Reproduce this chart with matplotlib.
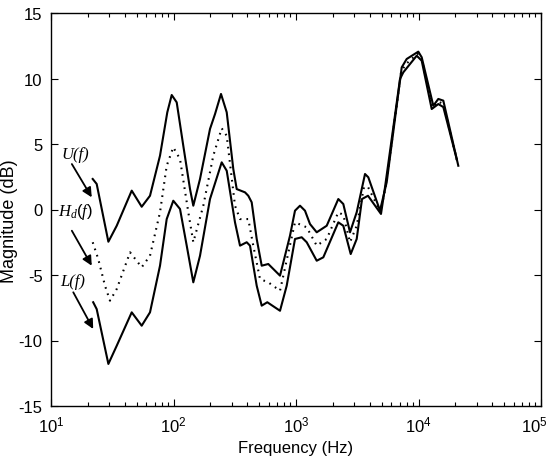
import matplotlib
matplotlib.use("Agg")
import matplotlib.pyplot as plt
from matplotlib.ticker import LogLocator, NullFormatter, FuncFormatter

# Upper bound U(f)
freq_U = [21.9, 23.6, 29.4, 34.4, 45.6, 55.0, 64.3, 77.6, 89.0, 96.7, 106.2, 120.2, 136.4, 145.1,
          164.6, 198.6, 218.3, 244.2, 271.9, 307.7, 328.1, 383.4, 407.9, 434.8, 477.8, 524.8, 594.0,
          740.4, 893.3, 981.3, 1078, 1184, 1301, 1476, 1781, 2215, 2433, 2760, 3130, 3659, 3892,
          4850, 5501, 7294, 8010, 9963, 10620, 13210, 14510, 15940, 21130]
mag_U = [2.33, 1.95, -2.46, -1.24, 1.44, 0.21, 1.05, 4.11, 7.42, 8.74, 8.18, 4.87, 1.56, 0.29,
         2.33, 6.15, 7.29, 8.82, 7.42, 3.09, 1.56, 1.31, 1.05, 0.55, -2.25, -4.29, -4.16,
         -5.05, -2.0, -0.09, 0.29, -0.09, -1.11, -1.74, -1.24, 0.80, 0.42, -1.74, -0.21, 2.71, 2.46,
         -0.09, 2.08, 10.85, 11.49, 12.05, 11.62, 7.92, 8.44, 8.31, 3.34]

# Desired response Hd(f)
freq_Hd = [21.9, 24.3, 27.6, 30.3, 34.4, 44.2, 55.0, 64.3, 77.6, 88.0, 99.6, 113.0, 132.1, 145.1,
           175.1, 211.3, 247.4, 271.9, 317.7, 349.1, 407.9, 448.0, 508.3, 594.0, 740.4, 981.3,
           1223, 1476, 1781, 2215, 2433, 2760, 3130, 3589, 3870, 4896, 5429, 7195, 7759, 9813,
           10620, 13010, 14510, 15940, 20820]
mag_Hd = [-2.50, -3.78, -5.82, -6.96, -6.07, -3.27, -4.41, -3.53, -0.21, 3.34, 4.75, 3.85, -0.21, -2.50,
          0.29, 4.11, 6.20, 5.63, 0.29, -0.73, -0.73, -2.76, -5.31, -5.56, -6.20, -0.98,
          -1.36, -2.76, -2.25, -0.21, -0.42, -2.50, -1.24, 1.72, 1.72, -0.19, 1.87, 10.42, 11.03, 11.89,
          11.49, 7.79, 8.24, 8.05, 3.59]

# Lower bound L(f)
freq_L = [22.1, 23.6, 29.4, 34.4, 45.6, 55.0, 64.3, 77.6, 88.0, 99.6, 113.0, 128.2, 145.1, 164.6,
          198.6, 247.4, 271.9, 317.7, 349.1, 395.9, 421.2, 477.8, 524.8, 583.0, 740.4, 839.5,
          981.3, 1113, 1223, 1476, 1671, 2215, 2433, 2796, 3130, 3458, 3870, 4941, 5327, 7063,
          7515, 9668, 10620, 12820, 14510, 15940, 20500]
mag_L = [-7.08, -7.60, -11.79, -10.40, -7.85, -8.87, -7.85, -4.29, -0.73, 0.67, 0.04, -2.76, -5.56, -3.53,
         0.80, 3.60, 2.96, -0.98, -2.76, -2.50, -2.76, -5.82, -7.34, -7.08, -7.73, -5.82,
         -2.25, -2.12, -2.50, -3.91, -3.65, -0.98, -1.24, -3.40, -2.25, 0.80, 1.05, -0.34, 1.69, 9.96,
         10.47, 11.74, 11.36, 7.67, 8.05, 7.82, 3.85]

y_ticks = [-15, -10, -5, 0, 5, 10, 15]
x_ticks = [1e1, 1e2, 1e3, 1e4, 1e5]
x_ticklabels = [r'$\mathdefault{10^{1}}$', r'$\mathdefault{10^{2}}$', r'$\mathdefault{10^{3}}$',
                r'$\mathdefault{10^{4}}$', r'$\mathdefault{10^{5}}$']

plt.rcParams['font.family'] = ['Liberation Sans', 'DejaVu Sans']
plt.rcParams['mathtext.fontset'] = 'custom'
plt.rcParams['mathtext.rm'] = 'Liberation Sans'
plt.rcParams['mathtext.it'] = 'Liberation Serif:italic'

fig = plt.figure(figsize=(5.52, 4.6), dpi=100)
ax = fig.add_axes([51/552, 1-407/460, (541-51)/552, (407-14)/460])

ax.semilogx(freq_U, mag_U, color='black', lw=1.5)
ax.semilogx(freq_Hd, mag_Hd, color='black', lw=1.5, linestyle=(0, (0.8, 2.4)))
ax.semilogx(freq_L, mag_L, color='black', lw=1.5)

ax.set_xlim(10, 1e5)
ax.set_ylim(-15, 15)
ax.set_yticks(y_ticks)
ax.set_yticklabels([str(v) for v in y_ticks])
ax.set_xticks(x_ticks)
# all but the last label drawn as tick labels; the last is nudged inside the canvas
ax.set_xticklabels(x_ticklabels[:-1] + [''])
ax.xaxis.set_minor_locator(LogLocator(base=10, subs=range(2, 10), numticks=100))
ax.xaxis.set_minor_formatter(NullFormatter())

ax.tick_params(which='both', direction='in', top=True, right=True, labelsize=12, width=0.8)
ax.tick_params(which='major', length=5, pad=6)
ax.tick_params(which='minor', length=3)
for s in ax.spines.values():
    s.set_linewidth(1.0)

ax.annotate(x_ticklabels[-1], xy=(x_ticks[-1], 0), xycoords=('data', 'axes fraction'),
            xytext=(-5, -6), textcoords='offset points', ha='center', va='top', fontsize=12)

ax.set_xlabel('Frequency (Hz)', fontsize=12, labelpad=4)
ax.set_ylabel('Magnitude (dB)', fontsize=13, va='center')
ax.yaxis.set_label_coords((10-51)/490, (407-221)/393)

arrow = dict(arrowstyle='-|>', color='black', lw=1.3, mutation_scale=14, shrinkA=0, shrinkB=0)
tfont = dict(family='Liberation Serif', style='italic', fontsize=12, ha='center', va='center')
ax.annotate('', xy=(21.5, 0.93), xytext=(14.8, 3.47), arrowprops=arrow)
ax.text(15.7, 4.2, 'U(f)', **tfont)
ax.annotate('', xy=(21.5, -4.29), xytext=(14.8, -1.62), arrowprops=arrow)
ax.text(15.9, -0.15, r'$H_d(f)$', fontsize=12, ha='center', va='center')
ax.annotate('', xy=(22.1, -9.12), xytext=(15.2, -6.32), arrowprops=arrow)
ax.text(15.1, -5.45, 'L(f)', **tfont)

fig.savefig('out.png', dpi=100)
